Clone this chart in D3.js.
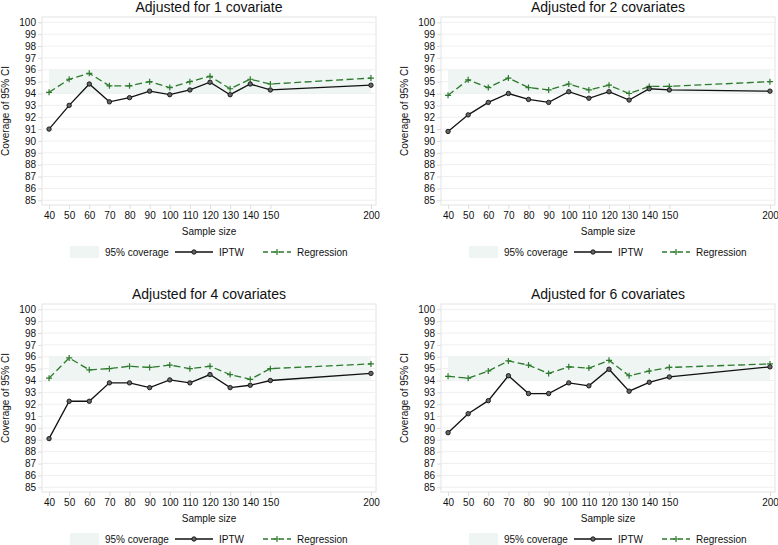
<!DOCTYPE html>
<html>
<head>
<meta charset="utf-8">
<script src="https://cdn.jsdelivr.net/npm/d3@7"></script>
<style>
  body { margin: 0; background: #fff; }
  svg { font-family: "Liberation Sans", Arial, Helvetica, sans-serif; }
</style>
</head>
<body>
<div class="chart"></div>
<script>
// sample sizes on the x axis
var sampleSizes = [40, 50, 60, 70, 80, 90, 100, 110, 120, 130, 140, 150, 200];
var yTicks = d3.range(85, 101);

var titles = ["Adjusted for 1 covariate", "Adjusted for 2 covariates",
              "Adjusted for 4 covariates", "Adjusted for 6 covariates"];

// coverage of 95% CI, IPTW
var iptw1 = [91.0, 93.0, 94.8, 93.3, 93.65, 94.2, 93.9, 94.3, 94.95, 93.9, 94.8, 94.3, 94.7];
var iptw2 = [90.8, 92.2, 93.25, 94.0, 93.5, 93.25, 94.15, 93.6, 94.15, 93.45, 94.4, 94.3, 94.2];
var iptw4 = [89.1, 92.25, 92.25, 93.8, 93.8, 93.4, 94.05, 93.8, 94.5, 93.4, 93.6, 94.0, 94.6];
var iptw6 = [89.6, 91.2, 92.3, 94.4, 92.9, 92.9, 93.8, 93.55, 94.95, 93.1, 93.85, 94.3, 95.15];

// coverage of 95% CI, regression
var reg1 = [94.1, 95.2, 95.7, 94.65, 94.65, 95.0, 94.5, 95.0, 95.45, 94.4, 95.2, 94.8, 95.3];
var reg2 = [93.85, 95.15, 94.5, 95.3, 94.5, 94.3, 94.8, 94.3, 94.7, 94.0, 94.6, 94.6, 95.0];
var reg4 = [94.2, 95.9, 94.9, 95.0, 95.2, 95.1, 95.3, 95.0, 95.2, 94.5, 94.1, 95.0, 95.4];
var reg6 = [94.35, 94.2, 94.8, 95.65, 95.3, 94.6, 95.15, 95.05, 95.7, 94.4, 94.8, 95.1, 95.4];

var band = [94, 96];

var iptwAll = [iptw1, iptw2, iptw4, iptw6];
var regAll = [reg1, reg2, reg4, reg6];

var green = "#2d7a2d";
var W = 778, H = 545;

var svg = d3.select(".chart").append("svg")
  .attr("width", W).attr("height", H);

titles.forEach(function(title, i) {
  var ox = (i % 2) * 399;
  var oy = Math.floor(i / 2) * 287;
  var g = svg.append("g").attr("transform", `translate(${ox}, ${oy})`);

  var x = d3.scaleLinear().domain([36.5, 202.5]).range([42, 376]);
  var y = d3.scaleLinear().domain([84.6, 100.45]).range([205, 17]);

  // frame
  g.append("rect")
    .attr("x", 42).attr("y", 17)
    .attr("width", 334).attr("height", 188)
    .attr("fill", "#fff").attr("stroke", "#e3e3e3").attr("stroke-width", 1);

  // grid
  g.selectAll(".grid").data(yTicks).enter().append("line")
    .attr("x1", 42).attr("x2", 376)
    .attr("y1", function(d) { return y(d); })
    .attr("y2", function(d) { return y(d); })
    .attr("stroke", "#efefef").attr("stroke-width", 1);

  // 95% band
  g.append("rect")
    .attr("x", x(sampleSizes[0]))
    .attr("width", x(sampleSizes[sampleSizes.length - 1]) - x(sampleSizes[0]))
    .attr("y", y(band[1]))
    .attr("height", y(band[0]) - y(band[1]))
    .attr("fill", "#eef5f3");

  // axes
  var yAxis = g.append("g").attr("transform", "translate(42,0)")
    .call(d3.axisLeft(y).tickValues(yTicks).tickSize(4).tickPadding(2));
  var xAxis = g.append("g").attr("transform", "translate(0,205)")
    .call(d3.axisBottom(x).tickValues(sampleSizes).tickSize(4).tickPadding(3));
  [xAxis, yAxis].forEach(function(a) {
    a.select(".domain").remove();
    a.selectAll(".tick line").attr("stroke", "#dcdcdc");
    a.selectAll("text").attr("fill", "#111").style("font-size", "10px")
      .style("font-family", "'Liberation Sans', Arial, sans-serif");
  });

  // regression (dashed green with +)
  var line = d3.line()
    .x(function(d, k) { return x(sampleSizes[k]); })
    .y(function(d) { return y(d); });

  g.append("path").datum(regAll[i])
    .attr("d", line).attr("fill", "none")
    .attr("stroke", green).attr("stroke-width", 1.3)
    .attr("stroke-dasharray", "7,3.5");
  g.selectAll(".plus").data(regAll[i]).enter().append("path")
    .attr("d", function(d, k) {
      var px = x(sampleSizes[k]), py = y(d);
      return `M${px - 3},${py}H${px + 3}M${px},${py - 3}V${py + 3}`;
    })
    .attr("stroke", green).attr("stroke-width", 1.2);

  // IPTW (solid black with circles)
  g.append("path").datum(iptwAll[i])
    .attr("d", line).attr("fill", "none")
    .attr("stroke", "#111").attr("stroke-width", 1.3);
  g.selectAll(".dot").data(iptwAll[i]).enter().append("circle")
    .attr("cx", function(d, k) { return x(sampleSizes[k]); })
    .attr("cy", function(d) { return y(d); })
    .attr("r", 2.2)
    .attr("fill", "#666").attr("stroke", "#111").attr("stroke-width", 0.9);

  // titles
  g.append("text").attr("x", 209).attr("y", 12)
    .attr("text-anchor", "middle").style("font-size", "14px").attr("fill", "#111")
    .text(title);
  g.append("text").attr("x", 209).attr("y", 235)
    .attr("text-anchor", "middle").style("font-size", "10px").attr("fill", "#111")
    .text("Sample size");
  g.append("text")
    .attr("transform", "translate(9,111) rotate(-90)")
    .attr("text-anchor", "middle").style("font-size", "10px").attr("fill", "#111")
    .text("Coverage of 95% CI");

  // legend
  var leg = g.append("g").attr("transform", "translate(0,252)");
  leg.append("rect").attr("x", 70).attr("y", -6).attr("width", 29).attr("height", 12)
    .attr("fill", "#eef5f3");
  leg.append("text").attr("x", 105).attr("y", 3.5).style("font-size", "10px")
    .attr("fill", "#111").text("95% coverage");
  leg.append("line").attr("x1", 175).attr("x2", 213).attr("y1", 0).attr("y2", 0)
    .attr("stroke", "#111").attr("stroke-width", 1.3);
  leg.append("circle").attr("cx", 194).attr("cy", 0).attr("r", 2.2)
    .attr("fill", "#666").attr("stroke", "#111").attr("stroke-width", 0.9);
  leg.append("text").attr("x", 219).attr("y", 3.5).style("font-size", "10px")
    .attr("fill", "#111").text("IPTW");
  leg.append("line").attr("x1", 263).attr("x2", 291).attr("y1", 0).attr("y2", 0)
    .attr("stroke", green).attr("stroke-width", 1.3).attr("stroke-dasharray", "5,3");
  leg.append("path").attr("d", "M274,0H280M277,-3V3")
    .attr("stroke", green).attr("stroke-width", 1.2);
  leg.append("text").attr("x", 297).attr("y", 3.5).style("font-size", "10px")
    .attr("fill", "#111").text("Regression");
});
</script>
</body>
</html>
